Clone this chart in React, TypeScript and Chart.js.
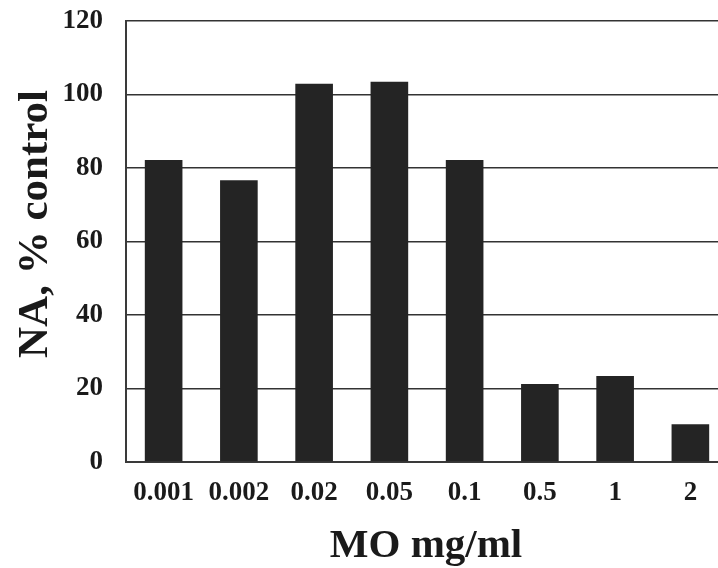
import React, { useEffect, useRef } from "react";
import { Chart, registerables } from "chart.js";

Chart.register(...registerables);

const categories = ["0.001", "0.002", "0.02", "0.05", "0.1", "0.5", "1", "2"];
const naValues = [82.2, 76.7, 102.9, 103.5, 82.2, 21.2, 23.4, 10.3];
const yMin = 0;
const yMax = 120;
const yStep = 20;
const xTitle = "MO mg/ml";
const yTitle = "NA, % control";

const FONT = "'Liberation Serif', 'Times New Roman', serif";

export default function App() {
  const ref = useRef<HTMLCanvasElement | null>(null);

  useEffect(() => {
    if (!ref.current) return;
    const titlePlugin = {
      id: "titles",
      afterDraw(chart: any) {
        const { ctx, chartArea } = chart;
        ctx.save();
        ctx.fillStyle = "#1a1a1a";
        ctx.textAlign = "center";
        ctx.textBaseline = "middle";
        ctx.font = `bold 41px ${FONT}`;
        ctx.fillText(xTitle, (chartArea.left + chartArea.right) / 2 - 1, 546);
        ctx.font = `bold 43px ${FONT}`;
        ctx.translate(36, 224);
        ctx.rotate(-Math.PI / 2);
        ctx.fillText(yTitle, 0, 0);
        ctx.restore();
      },
    };
    const chart = new Chart(ref.current, {
      type: "bar",
      data: {
        labels: categories,
        datasets: [
          {
            data: naValues,
            backgroundColor: "#242424",
            borderWidth: 0,
            barPercentage: 0.5,
            categoryPercentage: 1.0,
          },
        ],
      },
      plugins: [titlePlugin],
      options: {
        animation: false,
        responsive: true,
        maintainAspectRatio: false,
        layout: { padding: { top: 21, right: 12, left: 0, bottom: 0 } },
        plugins: { legend: { display: false }, tooltip: { enabled: false } },
        scales: {
          x: {
            afterFit: (s: any) => {
              s.height = 106;
              s.paddingLeft = 0;
              s.paddingRight = 0;
            },
            grid: { display: false, drawTicks: false },
            border: { display: true, color: "#3a3a3a", width: 2 },
            ticks: {
              color: "#1a1a1a",
              padding: 15,
              font: { family: FONT, size: 27, weight: "bold" },
            },
          },
          y: {
            min: yMin,
            max: yMax,
            afterFit: (s: any) => {
              s.width = 126;
              s.paddingTop = 0;
              s.paddingBottom = 0;
            },
            grid: { color: "#333333", lineWidth: 1.6, drawTicks: false },
            border: { display: true, color: "#3a3a3a", width: 2 },
            ticks: {
              stepSize: yStep,
              color: "#1a1a1a",
              padding: 23,
              font: { family: FONT, size: 27, weight: "bold" },
            },
          },
        },
      },
    });
    return () => chart.destroy();
  }, []);

  return (
    <div
      style={{
        position: "fixed",
        left: 0,
        top: 0,
        width: 718,
        height: 568,
        overflow: "hidden",
        background: "#fff",
      }}
    >
      <div style={{ position: "relative", width: 740, height: 568 }}>
        <canvas ref={ref} />
      </div>
    </div>
  );
}
